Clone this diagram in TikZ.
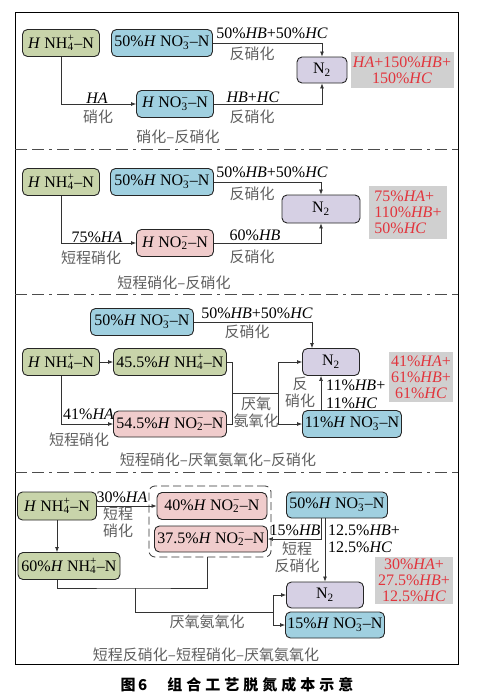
\documentclass[tikz,border=0pt]{standalone}
\usepackage{fontspec}
\setmainfont{Liberation Serif}
\newfontfamily\cjk{Noto Sans CJK SC}
\usetikzlibrary{arrows.meta}

\definecolor{nhgreen}{RGB}{200,212,170}
\definecolor{noblue}{RGB}{160,208,224}
\definecolor{nopink}{RGB}{240,204,204}
\definecolor{ntwopurple}{RGB}{214,208,228}
\definecolor{costgray}{RGB}{208,208,208}
\definecolor{costred}{RGB}{226,52,60}
\definecolor{labgray}{RGB}{95,95,95}

\newcommand{\HH}{\textit{H}}
\newcommand{\nhN}{NH\rlap{\textsubscript{4}}\textsuperscript{+}--N}
\newcommand{\noN}{NO\rlap{\textsubscript{3}}\textsuperscript{−}--N}
\newcommand{\nitN}{NO\rlap{\textsubscript{2}}\textsuperscript{−}--N}
\newcommand{\Ntwo}{N\textsubscript{2}}

\tikzset{
  box/.style={draw=black!85, line width=0.9pt, rounded corners=5pt, minimum height=27pt, inner sep=1pt, font=\fontsize{16}{18}\selectfont},
  nhbox/.style={box, fill=nhgreen},
  nobox/.style={box, fill=noblue},
  nitbox/.style={box, fill=nopink},
  ntbox/.style={box, fill=ntwopurple},
  costbox/.style={fill=costgray, text=costred, inner sep=2pt, font=\fontsize{16}{16}\selectfont},
  lab/.style={inner sep=0pt, font=\fontsize{16}{18}\selectfont},
  cn/.style={inner sep=0pt, text=labgray, align=center, font=\fontsize{15}{17}\selectfont\cjk},
  flow/.style={line width=0.7pt, draw=black!80, -{Latex[length=5pt,width=4pt]}},
  link/.style={line width=0.7pt, draw=black!80},
  sepline/.style={line width=0.8pt, draw=black!70, dash pattern=on 12pt off 5pt on 12pt off 5pt on 3pt off 5pt},
  grp/.style={draw=black!80, line width=0.8pt, dash pattern=on 8pt off 4pt, rounded corners=6pt}
}

\begin{document}
\begin{tikzpicture}[x=1pt, y=-1pt]
    \useasboundingbox (0,0) rectangle (477,699);

    % Frame and panel separators
    \draw[line width=0.9pt] (15,12) rectangle (458,664);
    \draw[sepline] (15,149) -- (458,149);
    \draw[sepline] (15,294) -- (458,294);
    \draw[sepline] (15,472) -- (458,472);

    % Panel 1: nitrification - denitrification
    \node[nhbox, minimum width=77pt] (p1nh) at (61,43) {\HH\ \nhN};
    \node[nobox, minimum width=101pt] (p1no) at (162,43) {50\%\HH\ \noN};
    \node[ntbox, minimum width=50pt, minimum height=26pt] (p1n2) at (322,70) {\Ntwo};
    \node[nobox, minimum width=77pt] (p1nob) at (175,104) {\HH\ \noN};
    \node[costbox, minimum width=103pt, minimum height=36pt, align=center] (p1cost) at (402,70) {\textit{HA}+150\%\textit{HB}+\\150\%\textit{HC}};
    \draw[flow] (p1no.east) -| (p1n2.north);
    \draw[flow] (p1nh.south) |- (p1nob.west);
    \draw[flow] (p1nob.east) -| (p1n2.south);
    \node[lab, anchor=base] (p1l1) at (272,38.5) {50\%\textit{HB}+50\%\textit{HC}};
    \node[cn] (p1l2) at (252,54) {反硝化};
    \node[lab, anchor=base] (p1l3) at (97,103) {\textit{HA}};
    \node[cn] (p1l4) at (98,117) {硝化};
    \node[lab, anchor=base] (p1l5) at (253,102) {\textit{HB}+\textit{HC}};
    \node[cn] (p1l6) at (252,117) {反硝化};
    \node[cn] (p1cap) at (178,137) {硝化–反硝化};

    % Panel 2: shortcut nitrification - denitrification
    \node[nhbox, minimum width=77pt] (p2nh) at (61,182) {\HH\ \nhN};
    \node[nobox, minimum width=103pt] (p2no) at (162,182) {50\%\HH\ \noN};
    \node[ntbox, minimum width=78pt, minimum height=28pt] (p2n2) at (321,209) {\Ntwo};
    \node[nitbox, minimum width=77pt] (p2nit) at (175,243) {\HH\ \nitN};
    \node[costbox, minimum width=78pt, minimum height=53pt, align=left] (p2cost) at (408,212) {75\%\textit{HA}+\\110\%\textit{HB}+\\50\%\textit{HC}};
    \draw[flow] (p2no.east) -| (p2n2.north);
    \draw[flow] (p2nh.south) |- (p2nit.west);
    \draw[flow] (p2nit.east) -| (p2n2.south);
    \node[lab, anchor=base] (p2l1) at (272,177.5) {50\%\textit{HB}+50\%\textit{HC}};
    \node[cn] (p2l2) at (252,194) {反硝化};
    \node[lab, anchor=base] (p2l3) at (97,242) {75\%\textit{HA}};
    \node[cn] (p2l4) at (91,258) {短程硝化};
    \node[lab, anchor=base] (p2l5) at (255,240) {60\%\textit{HB}};
    \node[cn] (p2l6) at (252,257) {反硝化};
    \node[cn] (p2cap) at (174,283) {短程硝化–反硝化};

    % Panel 3: shortcut nitrification - anammox - denitrification
    \node[nobox, minimum width=103pt] (p3no) at (142,322) {50\%\HH\ \noN};
    \node[nhbox, minimum width=77pt] (p3nh) at (61,362) {\HH\ \nhN};
    \node[nhbox, minimum width=113pt] (p3nhb) at (170,362) {45.5\%\HH\ \nhN};
    \node[nitbox, minimum width=113pt, minimum height=26pt] (p3nit) at (170,424) {54.5\%\HH\ \nitN};
    \node[ntbox, minimum width=57pt] (p3n2) at (331,362) {\Ntwo};
    \node[nobox, minimum width=99pt] (p3noc) at (352,424) {11\%\HH\ \noN};
    \node[costbox, minimum width=64pt, minimum height=50pt, align=center] (p3cost) at (421,377) {41\%\textit{HA}+\\61\%\textit{HB}+\\61\%\textit{HC}};
    \coordinate (p3j) at (232,393);
    \coordinate (p3s) at (278,393);
    \draw[flow] (p3nh) -- (p3nhb);
    \draw[flow] (p3nh.south) |- (p3nit.west);
    \draw[link] (p3nhb.east) -| (p3j);
    \draw[link] (p3nit.east) -| (p3j) -- (p3s);
    \draw[flow] (p3s) |- (p3n2.west);
    \draw[flow] (p3s) |- (p3noc.west);
    \draw[flow] (p3no.east) -| ([xshift=-19pt]p3n2.north);
    \draw[flow] ([xshift=-31pt]p3noc.north) -- ([xshift=-10pt]p3n2.south);
    \node[lab, anchor=base] (p3l1) at (257,318.5) {50\%\textit{HB}+50\%\textit{HC}};
    \node[cn] (p3l2) at (247,332) {反硝化};
    \node[lab, anchor=base west] (p3l3) at (63,419.5) {41\%\textit{HA}};
    \node[cn] (p3l4) at (79,440) {短程硝化};
    \node[cn] (p3l5) at (256,412.5) {厌氧\\氨氧化};
    \node[cn] (p3l6) at (300,392.5) {反\\硝化};
    \node[lab, anchor=base west] (p3l7) at (326,390.5) {11\%\textit{HB}+};
    \node[lab, anchor=base west] (p3l8) at (326,408.5) {11\%\textit{HC}};
    \node[cn] (p3cap) at (218,460) {短程硝化–厌氧氨氧化–反硝化};

    % Panel 4: shortcut denitrification - shortcut nitrification - anammox
    \node[nhbox, minimum width=79pt, minimum height=28pt] (p4nh) at (57,506) {\HH\ \nhN};
    \node[nitbox, minimum width=110pt] (p4nita) at (212,506) {40\%\HH\ \nitN};
    \node[nitbox, minimum width=113pt, minimum height=26pt] (p4nitb) at (211,539) {37.5\%\HH\ \nitN};
    \node[grp, minimum width=122pt, minimum height=71pt] (p4grp) at (210,521.5) {};
    \node[nobox, minimum width=101pt, minimum height=26pt] (p4no) at (337,505) {50\%\HH\ \noN};
    \node[ntbox, minimum width=77pt, minimum height=26pt] (p4n2) at (325,595) {\Ntwo};
    \node[nobox, minimum width=99pt, minimum height=26pt] (p4noc) at (335,625) {15\%\HH\ \noN};
    \node[nhbox, minimum width=102pt] (p4nhb) at (69,566) {60\%\HH\ \nhN};
    \node[costbox, minimum width=78pt, minimum height=47pt, align=center] (p4cost) at (414,580) {30\%\textit{HA}+\\27.5\%\textit{HB}+\\12.5\%\textit{HC}};
    \coordinate (p4m) at (135,588);
    \coordinate (p4s) at (273,612);
    \draw[flow] (p4nh) -- (p4nita);
    \draw[flow] (p4nh.south) -- (p4nh.south |- p4nhb.north);
    \draw[flow] ([xshift=-16pt]p4no.south) |- (p4nitb.east);
    \draw[flow] (p4no.south -| p4n2.north) -- (p4n2.north);
    \draw[link] ([xshift=-12pt]p4nhb.south) |- (p4m) -| ([xshift=-3pt]p4grp.south);
    \draw[link] (p4m) |- (p4s);
    \draw[flow] (p4s) |- (p4n2.west);
    \draw[flow] (p4s) |- (p4noc.west);
    \node[lab, anchor=base] (p4l1) at (122,502.5) {30\%\textit{HA}};
    \node[cn] (p4l2) at (118,522) {短程\\硝化};
    \node[lab, anchor=base] (p4l3) at (295,535.5) {15\%\textit{HB}};
    \node[cn] (p4l4) at (297,557.5) {短程\\反硝化};
    \node[lab, anchor=base west] (p4l5) at (328,535.5) {12.5\%\textit{HB}+};
    \node[lab, anchor=base west] (p4l6) at (328,552.5) {12.5\%\textit{HC}};
    \node[cn] (p4l7) at (207,622) {厌氧氨氧化};
    \node[cn] (p4cap) at (206,655) {短程反硝化–短程硝化–厌氧氨氧化};

    % Figure caption
    \node[inner sep=0pt, font=\fontsize{15}{17}\selectfont\cjk\bfseries] (figcap) at (237,685) {图\,6\hspace{20pt}组\hspace{4pt}合\hspace{4pt}工\hspace{4pt}艺\hspace{4pt}脱\hspace{4pt}氮\hspace{4pt}成\hspace{4pt}本\hspace{4pt}示\hspace{4pt}意};
\end{tikzpicture}
\end{document}
